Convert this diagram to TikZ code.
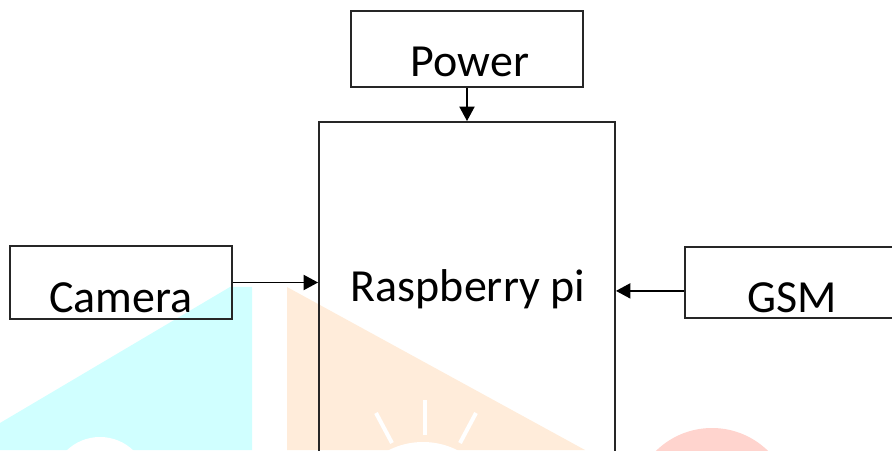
\documentclass[tikz,border=0pt]{standalone}
\usepackage{fontspec}
\setmainfont{Carlito}
\usepackage{tikz}
\usetikzlibrary{arrows.meta,positioning,calc}
\definecolor{wmcyan}{RGB}{208,255,255}
\definecolor{wmorange}{RGB}{255,236,218}
\definecolor{wmred}{RGB}{255,212,206}
\begin{document}
\begin{tikzpicture}[font=\fontsize{32.7}{36}\selectfont,
  blk/.style={draw=black!85,line width=1.4pt,rectangle,inner sep=0pt},
  txt/.style={anchor=base,inner sep=0pt},
  arr/.style={-{Triangle[length=3.6mm,width=3.8mm]},line width=0.9pt},
  ray/.style={white,line width=1mm}]
  \useasboundingbox (0,0) rectangle (22.3,11.25);
  \clip (0,0) rectangle (22.3,11.25);
  \begin{scope}
    \fill[wmcyan] (5.75,4.075) -- (6.3,4.075) -- (6.3,0) -- (0,0) -- (0,0.675) -- cycle;
    \fill[white] (2.5,-0.875) circle (1.2);
    \fill[wmorange] (7.175,4.075) -- (7.175,0) -- (14.625,0) -- cycle;
    \fill[white] (10.575,-1.7) circle (1.9);
    \draw[ray] (10.625,1.25) -- (10.625,0.375);
    \draw[ray] (9.4,0.925) -- (9.8,0.175);
    \draw[ray] (11.9,0.925) -- (11.5,0.175);
    \fill[wmred] (17.8,-1.45) circle (2.0);
  \end{scope}
  \node[blk,minimum width=5.8cm,minimum height=1.9cm] (pow) at (11.675,10.025) {};
  \node[txt] (powtxt) at (11.75,9.325) {Power};
  \node[blk,minimum width=7.4cm,minimum height=8.7cm] (rpi) at (11.675,3.85) {};
  \node[txt] (rpitxt) at (11.7,3.7) {Raspberry pi};
  \node[blk,minimum width=5.55cm,minimum height=1.825cm] (cam) at (3.025,4.1875) {};
  \node[txt] (camtxt) at (3.025,3.425) {Camera};
  \node[blk,minimum width=5.6cm,minimum height=1.775cm] (gsm) at (19.925,4.1875) {};
  \node[txt] (gsmtxt) at (19.81,3.425) {GSM};
  \draw[arr] (pow.south) -- (pow.south |- rpi.north);
  \draw[arr] (cam.east) -- (cam.east -| rpi.west);
  \draw[arr] ([yshift=-2.1mm]gsm.west) -- ([yshift=-2.1mm]gsm.west -| rpi.east);
\end{tikzpicture}
\end{document}
